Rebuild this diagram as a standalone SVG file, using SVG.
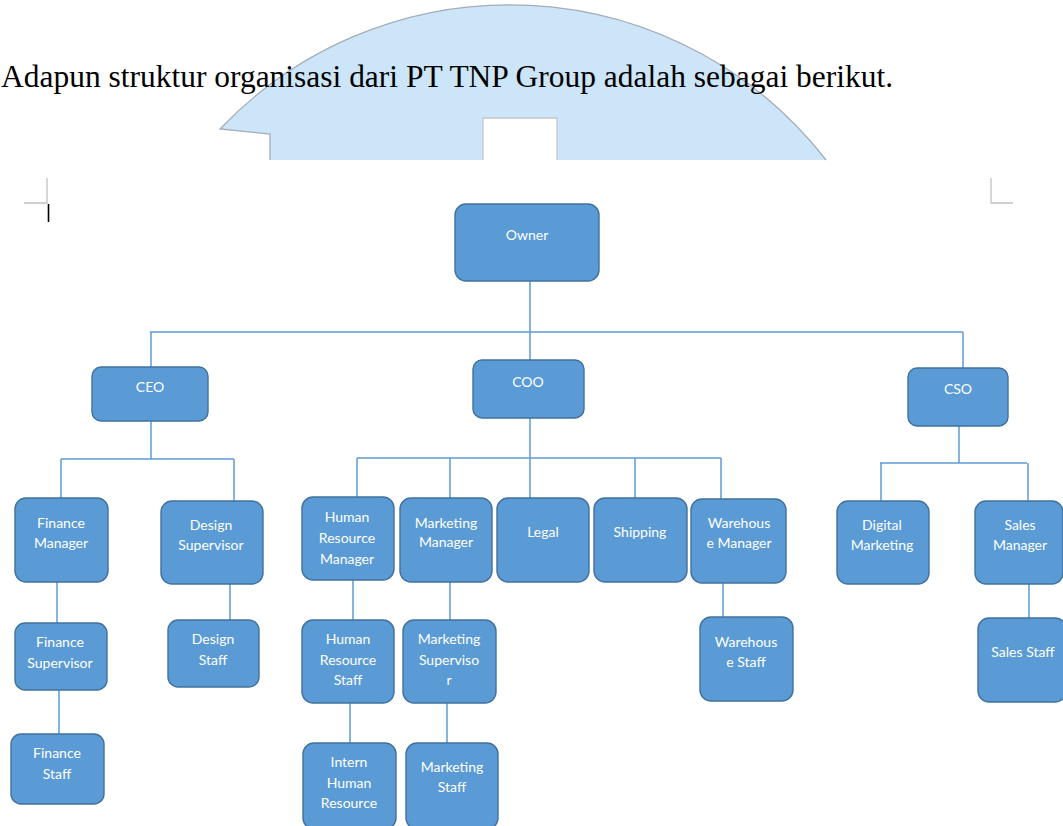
<svg xmlns="http://www.w3.org/2000/svg" width="1063" height="826" viewBox="0 0 1063 826">
<style>
.node rect{fill:#5b9bd5;stroke:#41719c;stroke-width:1.4}
.node text{fill:#ffffff;font-family:Lato,"Open Sans","Liberation Sans",sans-serif;font-size:14px;text-anchor:middle}
#connectors path{fill:none;stroke:#5b9bd5;stroke-width:1.5}
.title{font-family:"Liberation Serif","Times New Roman",serif;font-size:31px;fill:#000}
.mark{stroke:#c0c0c0;stroke-width:1.3;fill:none}
</style>
<rect width="1063" height="826" fill="#ffffff"/>
<g id="watermark">
<path d="M270,160 V134 L220,129 A400,400 0 0 1 826,160 Z" fill="#cde5f8"/>
<path d="M270,160 V134 L220,129 A400,400 0 0 1 826,160" fill="none" stroke="#a3adb7" stroke-width="1.3"/>
<path d="M483,160 V118 H557 V160 Z" fill="#ffffff"/>
<path d="M483,160 V118 H557 V160" fill="none" stroke="#c4c8cc" stroke-width="1.3"/>
</g>
<text class="title" x="1" y="87" textLength="892" lengthAdjust="spacingAndGlyphs">Adapun struktur organisasi dari PT TNP Group adalah sebagai berikut.</text>
<g id="cropmarks">
<path class="mark" d="M47,178 V203 H24"/>
<path d="M48.5,204 V222" stroke="#000" stroke-width="1.6"/>
<path class="mark" d="M991,178 V203 H1013"/>
</g>
<g id="connectors">
<path d="M530,281 V332"/>
<path d="M150,332 H963"/>
<path d="M151,332 V367"/>
<path d="M530,332 V360"/>
<path d="M963,332 V368"/>
<path d="M151,421 V459"/>
<path d="M61,459 H234"/>
<path d="M61,459 V498"/>
<path d="M234,459 V501"/>
<path d="M57,582 V623"/>
<path d="M59,690 V734"/>
<path d="M230,584 V620"/>
<path d="M530,418 V458"/>
<path d="M357,458 H721"/>
<path d="M357,458 V497"/>
<path d="M450,458 V498"/>
<path d="M530,458 V498"/>
<path d="M635,458 V498"/>
<path d="M721,458 V499"/>
<path d="M353,580 V620"/>
<path d="M350,703 V743"/>
<path d="M450,582 V620"/>
<path d="M447,703 V743"/>
<path d="M723,583 V617"/>
<path d="M959,426 V463"/>
<path d="M880,463 H1027"/>
<path d="M881,463 V501"/>
<path d="M1028,463 V501"/>
<path d="M1029,584 V618"/>
</g>
<g id="owner" class="node"><rect x="455" y="204" width="144" height="77" rx="11"/><text x="527" y="240">Owner</text></g>
<g id="coo" class="node"><rect x="473" y="360" width="111" height="58" rx="9"/><text x="528" y="387">COO</text></g>
<g id="ceo" class="node"><rect x="92" y="367" width="116" height="54" rx="9"/><text x="150" y="392">CEO</text></g>
<g id="cso" class="node"><rect x="908" y="368" width="100" height="58" rx="9"/><text x="958" y="394">CSO</text></g>
<g id="finance-manager" class="node"><rect x="15" y="498" width="93" height="84" rx="11"/><text x="61" y="528">Finance</text><text x="61" y="548">Manager</text></g>
<g id="design-supervisor" class="node"><rect x="161" y="501" width="102" height="83" rx="11"/><text x="211" y="530">Design</text><text x="211" y="550">Supervisor</text></g>
<g id="finance-supervisor" class="node"><rect x="15" y="623" width="92" height="67" rx="10"/><text x="60" y="647">Finance</text><text x="60" y="668">Supervisor</text></g>
<g id="finance-staff" class="node"><rect x="11" y="734" width="93" height="70" rx="10"/><text x="57" y="758">Finance</text><text x="57" y="779">Staff</text></g>
<g id="design-staff" class="node"><rect x="168" y="620" width="91" height="67" rx="10"/><text x="213" y="644">Design</text><text x="213" y="665">Staff</text></g>
<g id="hr-manager" class="node"><rect x="302" y="497" width="92" height="83" rx="11"/><text x="347" y="522">Human</text><text x="347" y="543">Resource</text><text x="347" y="564">Manager</text></g>
<g id="marketing-manager" class="node"><rect x="400" y="498" width="92" height="84" rx="11"/><text x="446" y="528">Marketing</text><text x="446" y="547">Manager</text></g>
<g id="legal" class="node"><rect x="497" y="498" width="92" height="84" rx="11"/><text x="543" y="537">Legal</text></g>
<g id="shipping" class="node"><rect x="594" y="498" width="93" height="84" rx="11"/><text x="640" y="537">Shipping</text></g>
<g id="warehouse-manager" class="node"><rect x="691" y="499" width="95" height="84" rx="11"/><text x="739" y="528">Warehous</text><text x="739" y="548">e Manager</text></g>
<g id="digital-marketing" class="node"><rect x="837" y="501" width="92" height="83" rx="11"/><text x="882" y="530">Digital</text><text x="882" y="550">Marketing</text></g>
<g id="sales-manager" class="node"><rect x="975" y="501" width="88" height="83" rx="11"/><text x="1020" y="530">Sales</text><text x="1020" y="550">Manager</text></g>
<g id="hr-staff" class="node"><rect x="302" y="620" width="92" height="83" rx="11"/><text x="348" y="644">Human</text><text x="348" y="665">Resource</text><text x="348" y="685">Staff</text></g>
<g id="marketing-supervisor" class="node"><rect x="403" y="620" width="93" height="83" rx="11"/><text x="449" y="644">Marketing</text><text x="449" y="665">Superviso</text><text x="449" y="685">r</text></g>
<g id="warehouse-staff" class="node"><rect x="700" y="617" width="93" height="84" rx="11"/><text x="746" y="647">Warehous</text><text x="746" y="667">e Staff</text></g>
<g id="sales-staff" class="node"><rect x="978" y="618" width="88" height="84" rx="11"/><text x="1023" y="657">Sales Staff</text></g>
<g id="intern-hr" class="node"><rect x="303" y="743" width="93" height="86" rx="11"/><text x="349" y="767">Intern</text><text x="349" y="788">Human</text><text x="349" y="808">Resource</text></g>
<g id="marketing-staff" class="node"><rect x="406" y="743" width="92" height="86" rx="11"/><text x="452" y="772">Marketing</text><text x="452" y="792">Staff</text></g>
</svg>
